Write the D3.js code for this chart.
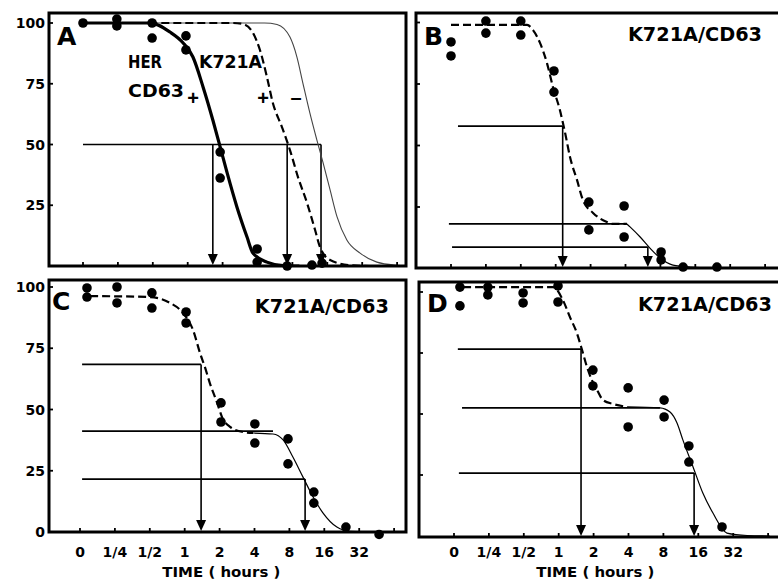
<!DOCTYPE html>
<html>
<head>
<meta charset="utf-8">
<script src="https://cdn.jsdelivr.net/npm/d3@7"></script>
<style>
body { margin: 0; background: #fff; }
text { font-family: "Liberation Sans", Arial, sans-serif; font-weight: bold; fill: #000; }
.num { font-family: "DejaVu Sans", sans-serif; }
</style>
</head>
<body>
<div id="chart"></div>
<script>
// x positions are in "time step" units: 0 = 0h, 1 = 1/4h, 2 = 1/2h, 3 = 1h ... 8 = 32h
const xTickLabels = ["0", "1/4", "1/2", "1", "2", "4", "8", "16", "32"];
const xTickCount = 10;
const yTickValues = [100, 75, 50, 25, 0];

// panel A
const dotsA = [[0, 100], [0.97, 101.6], [0.97, 98.8], [1.98, 100], [1.98, 93.8], [2.95, 94.7], [2.95, 88.9],
  [3.93, 46.9], [3.93, 36.2], [4.99, 7], [4.99, 1.6], [5.85, 0], [6.56, 0.4], [6.85, 1.2]];
const herCd63A = [[0, 100], [1.92, 100], [2.49, 96.3], [2.87, 91.8], [3.15, 86], [3.44, 73.7], [3.72, 60.1],
  [3.93, 49], [4.13, 38.3], [4.41, 24.3], [4.7, 11.9], [4.87, 5.3], [5.27, 1.6], [5.73, 0.2], [6.2, 0]];
const k721aCd63A = [[1.9, 100], [4.3, 100], [4.58, 99.6], [4.87, 95.9], [5.07, 88.9], [5.27, 77.8], [5.44, 67.1],
  [5.7, 57.2], [5.93, 47.7], [6.16, 36.6], [6.42, 25.9], [6.65, 14.8], [6.79, 7.8], [7.08, 2.5], [7.65, 0.3], [8.2, 0]];
const k721aA = [[1.9, 100], [5.2, 100], [5.56, 99.4], [5.93, 94.2], [6.13, 86], [6.3, 75.3], [6.5, 63], [6.7, 51.9],
  [6.88, 42.4], [7.08, 31.3], [7.28, 20.2], [7.56, 10.7], [7.94, 5.3], [8.42, 1.6], [8.99, 0.3], [9.4, 0]];
const levelsA = [[50, 0, 6.82]];
const arrowsA = [[3.72, 50], [5.85, 50], [6.82, 50]];

// panel B
const dotsB = [[0, 92.1], [0, 86.4], [1, 100.6], [1, 95.7], [2, 100.6], [2, 94.9], [2.95, 80.3], [2.95, 71.7],
  [3.95, 27], [3.95, 15.7], [4.96, 25.4], [4.96, 12.8], [6.02, 6.7], [6.02, 3.5], [6.65, 0.6], [7.62, 0.6]];
const dashedB = [[0, 99], [2.18, 99], [2.35, 96.9], [2.55, 91.7], [2.75, 83.5], [2.92, 73.8], [3.12, 64.4],
  [3.27, 55.1], [3.41, 45.3], [3.61, 36], [3.78, 27.8], [4.07, 22.6], [4.47, 18.9], [4.64, 18.1], [5.04, 18.1]];
const solidB = [[5.04, 18.1], [5.13, 16.9], [5.42, 12.8], [5.7, 8.3], [5.99, 4.3], [6.36, 1.4], [6.85, 0.6],
  [7.71, 0.2], [9.14, 0.2]];
const levelsB = [[57.9, 0.2, 3.2], [18.1, -0.06, 5.04], [8.7, 0.03, 5.64]];
const arrowsB = [[3.2, 57.9], [5.64, 8.7]];

// panel C
const dotsC = [[0.2, 99.6], [0.2, 95.9], [1.06, 100], [1.06, 93.5], [2.06, 97.6], [2.06, 91.4], [3.04, 89.8], [3.04, 85.3],
  [4.04, 52.7], [4.04, 44.9], [5.01, 44.1], [5.01, 36.3], [5.96, 38], [5.96, 27.8], [6.7, 16.3], [6.7, 11.8],
  [7.62, 2], [8.57, -1]];
const dashedC = [[0.29, 96.3], [2.0, 95.9], [2.58, 93.5], [2.95, 89.4], [3.24, 82.4], [3.44, 73], [3.58, 67.3],
  [3.72, 60.8], [3.93, 52.7], [4.07, 46.9], [4.3, 42.9], [4.67, 40.8], [4.96, 40.4]];
const solidC = [[4.96, 40.4], [5.53, 40], [5.82, 37.6], [6.1, 30.6], [6.39, 22.4], [6.68, 14.3], [6.96, 7.8],
  [7.36, 2], [7.74, 0.3], [8.68, 0]];
const levelsC = [[68.4, 0.06, 3.47], [41.2, 0.06, 5.53], [21.6, 0.06, 6.45]];
const arrowsC = [[3.47, 68.4], [6.45, 21.6]];

// panel D
const dotsD = [[0.17, 102], [0.17, 94.3], [0.97, 102], [0.97, 98.8], [1.98, 99.6], [1.98, 95.5], [2.98, 102.5], [2.98, 95.9],
  [3.98, 68], [3.98, 61.5], [4.99, 60.7], [4.99, 44.7], [6.02, 55.7], [6.02, 48.8], [6.73, 36.9], [6.73, 30.3], [7.68, 3.7]];
const dashedD = [[0.26, 102], [2.84, 102], [3.12, 96.7], [3.32, 89.8], [3.52, 83.2], [3.67, 76.2], [3.81, 69.3],
  [3.95, 63.9], [4.1, 59.8], [4.27, 55.7], [4.56, 54.1], [4.96, 52.9]];
const solidD = [[4.96, 52.9], [5.9, 52.5], [6.19, 50.8], [6.39, 46.3], [6.56, 39.3], [6.85, 28.3], [7.13, 17.6],
  [7.42, 9.4], [7.82, 1.2], [8.4, 0.2], [9.05, 0]];
const levelsD = [[76.6, 0.11, 3.64], [52.5, 0.23, 5.9], [25.8, 0.14, 6.88]];
const arrowsD = [[3.64, 76.6], [6.88, 25.8]];

const panels = [
  { id: "A", left: 49, top: 13, right: 406, bottom: 266, x0: 83, y0: 266, y100: 23,
    dots: dotsA, levels: levelsA, arrows: arrowsA, yLabels: true, xLabels: false, tagX: 0,
    curves: [{ data: k721aA, w: 1.1, dash: null, color: "#444" },
             { data: k721aCd63A, w: 2.2, dash: "8,4", color: "#000" },
             { data: herCd63A, w: 3.2, dash: null, color: "#000" }] },
  { id: "B", left: 416, top: 13, right: 782, bottom: 268, x0: 451, y0: 268.5, y100: 22.5,
    dots: dotsB, levels: levelsB, arrows: arrowsB, yLabels: false, xLabels: false, tagX: 5.07, tagY: 41,
    curves: [{ data: dashedB, w: 2.2, dash: "8,4", color: "#000" },
             { data: solidB, w: 1.2, dash: null, color: "#000" }] },
  { id: "C", left: 49, top: 280, right: 406, bottom: 532, x0: 80, y0: 532, y100: 287,
    dots: dotsC, levels: levelsC, arrows: arrowsC, yLabels: true, xLabels: true, tagX: 5.01, tagY: 313,
    curves: [{ data: dashedC, w: 2.2, dash: "8,4", color: "#000" },
             { data: solidC, w: 1.2, dash: null, color: "#000" }] },
  { id: "D", left: 419, top: 282, right: 782, bottom: 537, x0: 454, y0: 536, y100: 292,
    dots: dotsD, levels: levelsD, arrows: arrowsD, yLabels: false, xLabels: true, tagX: 5.27, tagY: 311,
    curves: [{ data: dashedD, w: 2.2, dash: "8,4", color: "#000" },
             { data: solidD, w: 1.2, dash: null, color: "#000" }] }
];

const svg = d3.select("#chart")
  .append("svg")
  .attr("width", 778)
  .attr("height", 580);

const scales = {};

panels.forEach(p => {
  const x = d3.scaleLinear().domain([0, 9]).range([p.x0, p.x0 + 9 * 34.9]);
  const y = d3.scaleLinear().domain([0, 100]).range([p.y0, p.y100]);
  scales[p.id] = { x, y };

  svg.append("clipPath").attr("id", "clip" + p.id)
    .append("rect")
    .attr("x", p.left).attr("y", p.top)
    .attr("width", p.right - p.left).attr("height", p.bottom - p.top);

  const g = svg.append("g");
  const inner = g.append("g").attr("clip-path", `url(#clip${p.id})`);

  // reading lines
  inner.selectAll(".level")
    .data(p.levels)
    .enter().append("line")
    .attr("x1", d => x(d[1])).attr("x2", d => x(d[2]))
    .attr("y1", d => y(d[0])).attr("y2", d => y(d[0]))
    .attr("stroke", "#000").attr("stroke-width", 1.7);

  inner.selectAll(".drop")
    .data(p.arrows)
    .enter().append("line")
    .attr("x1", d => x(d[0])).attr("x2", d => x(d[0]))
    .attr("y1", d => y(d[1])).attr("y2", p.bottom - 10)
    .attr("stroke", "#000").attr("stroke-width", 1.6);

  inner.selectAll(".head")
    .data(p.arrows)
    .enter().append("path")
    .attr("d", d => {
      const cx = x(d[0]);
      return `M${cx - 5},${p.bottom - 12}L${cx + 5},${p.bottom - 12}L${cx},${p.bottom - 1}Z`;
    })
    .attr("fill", "#000");

  const line = d3.line()
    .x(d => x(d[0]))
    .y(d => y(d[1]))
    .curve(d3.curveMonotoneX);

  p.curves.forEach(c => {
    inner.append("path")
      .datum(c.data)
      .attr("d", line)
      .attr("fill", "none")
      .attr("stroke", c.color)
      .attr("stroke-width", c.w)
      .attr("stroke-dasharray", c.dash);
  });

  // frame
  g.append("rect")
    .attr("x", p.left).attr("y", p.top)
    .attr("width", p.right - p.left).attr("height", p.bottom - p.top)
    .attr("fill", "none").attr("stroke", "#000").attr("stroke-width", 3);

  // data points sit on top of the frame where they touch it
  g.selectAll(".dot")
    .data(p.dots)
    .enter().append("circle")
    .attr("cx", d => x(d[0]))
    .attr("cy", d => y(d[1]))
    .attr("r", 4.8)
    .attr("fill", "#000");

  // ticks inside frame
  g.selectAll(".xt")
    .data(d3.range(xTickCount))
    .enter().append("line")
    .attr("x1", d => x(d)).attr("x2", d => x(d))
    .attr("y1", p.bottom).attr("y2", p.bottom - 4)
    .attr("stroke", "#000").attr("stroke-width", 1.8);

  g.selectAll(".yt")
    .data(yTickValues.slice(0, 4))
    .enter().append("line")
    .attr("x1", p.left).attr("x2", p.left + 4)
    .attr("y1", d => y(d)).attr("y2", d => y(d))
    .attr("stroke", "#000").attr("stroke-width", 1.8);

  if (p.yLabels) {
    g.selectAll(".yl")
      .data(p.id === "C" ? yTickValues : yTickValues.slice(0, 4))
      .enter().append("text")
      .attr("class", "num")
      .attr("x", p.left - 4)
      .attr("y", d => y(d) + 5)
      .attr("text-anchor", "end")
      .style("font-size", "14px")
      .text(d => d);
  }

  if (p.xLabels) {
    g.selectAll(".xl")
      .data(xTickLabels)
      .enter().append("text")
      .attr("class", "num")
      .attr("x", (d, i) => x(i))
      .attr("y", 557)
      .attr("text-anchor", "middle")
      .style("font-size", "14px")
      .text(d => d);

    g.append("text")
      .attr("class", "num")
      .attr("x", x(4.05))
      .attr("y", 577)
      .attr("text-anchor", "middle")
      .attr("textLength", 118)
      .attr("lengthAdjust", "spacingAndGlyphs")
      .style("font-size", "14px")
      .text("TIME ( hours )");
  }

  // panel letter
  g.append("text")
    .attr("class", "num")
    .attr("x", p.left + (p.id === "C" ? 3 : 8))
    .attr("y", p.top + (p.id === "C" || p.id === "D" ? 30 : 32))
    .style("font-size", "25px")
    .text(p.id);

  if (p.id !== "A") {
    g.append("text")
      .attr("class", "num")
      .attr("x", x(p.tagX))
      .attr("y", p.tagY)
      .attr("textLength", 134)
      .attr("lengthAdjust", "spacingAndGlyphs")
      .style("font-size", "20px")
      .text("K721A/CD63");
  }
});

// panel A legend text
const gA = svg.append("g").style("font-size", "18px");
gA.append("text").attr("class", "num").attr("x", 128).attr("y", 68).attr("textLength", 34).attr("lengthAdjust", "spacingAndGlyphs").text("HER");
gA.append("text").attr("class", "num").attr("x", 128).attr("y", 97).attr("textLength", 56).attr("lengthAdjust", "spacingAndGlyphs").text("CD63");
gA.append("text").attr("class", "num").attr("x", 199).attr("y", 68).attr("textLength", 63).attr("lengthAdjust", "spacingAndGlyphs").text("K721A");
gA.append("text").attr("x", 193).attr("y", 105).attr("text-anchor", "middle").style("font-size", "20px").text("+");
gA.append("text").attr("x", 263).attr("y", 105).attr("text-anchor", "middle").style("font-size", "20px").text("+");
gA.append("text").attr("x", 296).attr("y", 104).attr("text-anchor", "middle").style("font-size", "20px").text("–");
</script>
</body>
</html>
